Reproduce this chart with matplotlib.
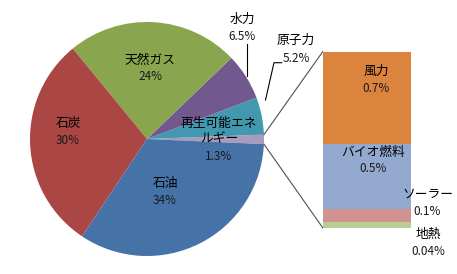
import numpy as np
import matplotlib
matplotlib.use("Agg")
import matplotlib.pyplot as plt

plt.rcParams['font.family'] = ['Noto Sans CJK JP', 'DejaVu Sans']

# main pie (percent of primary energy)
sources = ["再生可能エネ\nルギー", "原子力", "水力", "天然ガス", "石炭", "石油"]
shares = [1.3, 5.2, 6.5, 24, 30, 34]
pie_colors = ["#A99BBD", "#4198AF", "#71588F", "#89A54E", "#AA4643", "#4572A7"]

# breakdown of renewables, bottom to top
renew = ["地熱", "ソーラー", "バイオ燃料", "風力"]
renew_shares = [0.04, 0.1, 0.5, 0.7]
renew_colors = ["#B9CD96", "#D19392", "#93A9CF", "#DB843D"]

W, H = 457, 274
fig = plt.figure(figsize=(W / 100, H / 100), dpi=100)
ax = fig.add_axes([0, 0, 1, 1])

cx, cy, r = 147, H - 139, 117
wedges, _ = ax.pie(shares, colors=pie_colors, startangle=-2.5, counterclock=True,
                   center=(cx, cy), radius=r, wedgeprops=dict(linewidth=0),
                   frame=True)
ax.set_xlim(0, W)
ax.set_ylim(0, H)
ax.set_aspect("equal")
ax.axis("off")

# stacked bar for the renewables slice
bar_left, bar_right = 322.7, 411
bar_bottom, bar_top = H - 227.7, H - 51.7
scale = (bar_top - bar_bottom) / sum(renew_shares)
bottom = bar_bottom
for val, col in zip(renew_shares, renew_colors):
    ax.bar((bar_left + bar_right) / 2, val * scale, width=bar_right - bar_left,
           bottom=bottom, color=col, linewidth=0)
    bottom += val * scale

# connector lines from the slice edges to the bar corners
w = wedges[0]
for ang, by in [(w.theta2, bar_top), (w.theta1, bar_bottom)]:
    px = cx + r * np.cos(np.radians(ang))
    py = cy + r * np.sin(np.radians(ang))
    ax.plot([px, bar_left], [py, by], color="#505050", lw=0.8)

fs = 9.2
fs_pct = 8.5
dark = "#1a1a1a"


def label(x, y, name, pct, gap=17):
    ax.text(x, H - y, name, ha="center", va="center", fontsize=fs, color="black")
    ax.text(x, H - y - gap, pct, ha="center", va="center", fontsize=fs_pct,
            color=dark)


label(165, 183, "石油", f"{shares[5]:g}%")
label(68, 124, "石炭", f"{shares[4]:g}%")
label(150, 60, "天然ガス", f"{shares[3]:g}%")
label(242, 19.5, "水力", f"{shares[2]:g}%")
label(296, 40, "原子力", f"{shares[1]:g}%", gap=18)
ax.text(219, H - 131, sources[0], ha="center", va="center", fontsize=fs,
        color="black", linespacing=1.25)
ax.text(219, H - 157, f"{shares[0]:g}%", ha="center", va="center", fontsize=fs_pct,
        color=dark)

label(376, 71, renew[3], f"{renew_shares[3]:g}%")
label(373, 152, renew[2], f"{renew_shares[2]:g}%", gap=16.5)
label(427.5, 194.5, renew[1], f"{renew_shares[1]:g}%")
label(428.5, 234.5, renew[0], f"{renew_shares[0]:g}%")

# leader lines for the small outer labels
ax.plot([246.7, 246.7], [H - 44, H - 76], color="black", lw=0.8, zorder=5)
ax.plot([281.7, 274, 265.5], [H - 62.7, H - 62.7, H - 100], color="black", lw=0.8,
        zorder=5)

fig.savefig("out.png", dpi=100)
